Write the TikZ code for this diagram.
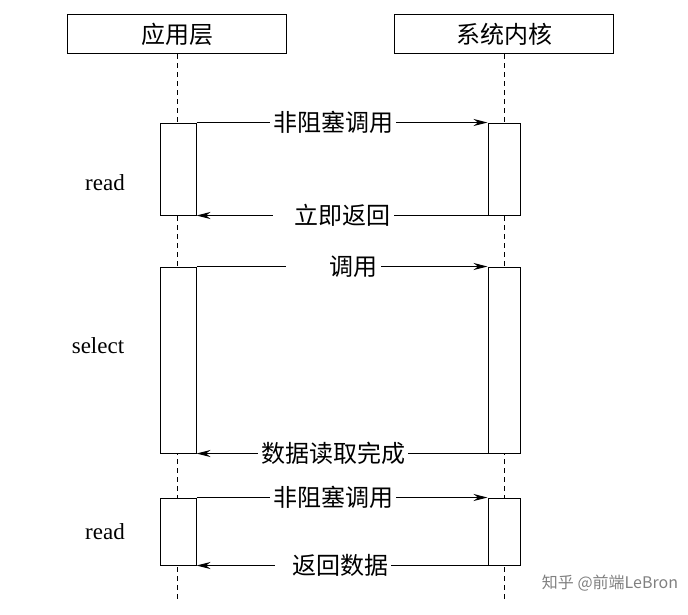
\documentclass[tikz,border=0pt]{standalone}
\usepackage{fontspec}
\setmainfont{Liberation Serif}
\newfontfamily\cjk{Noto Sans CJK SC}
\usetikzlibrary{arrows.meta}
\begin{document}
\begin{tikzpicture}[x=1pt,y=-1pt,
  hdr/.style={draw,line width=1pt,minimum width=219pt,minimum height=39pt,inner sep=0pt,font=\cjk\fontsize{24}{26}\selectfont},
  act/.style={draw,line width=1pt,fill=white,inner sep=0pt},
  msg/.style={line width=1pt,-{Stealth[length=14pt,width=7pt]}},
  lbl/.style={fill=white,inner sep=3pt,font=\cjk\fontsize{24}{26}\selectfont},
  side/.style={font=\fontsize{23}{25}\selectfont}]
\useasboundingbox (0,0) rectangle (688,614);
\node[hdr] (app) at (177,34) {应用层};
\node[hdr] (ker) at (504,34) {系统内核};
\coordinate (append) at (177,600);
\coordinate (kerend) at (504,600);
\draw[dashed,line width=0.8pt,dash pattern=on 5pt off 4pt] (app.south) -- (append);
\draw[dashed,line width=0.8pt,dash pattern=on 5pt off 4pt] (ker.south) -- (kerend);
% activations
\node[act,minimum width=36pt,minimum height=92pt] (a1) at (178,169) {};
\node[act,minimum width=32pt,minimum height=92pt] (k1) at (504,169) {};
\node[act,minimum width=36pt,minimum height=186pt] (a2) at (178,360) {};
\node[act,minimum width=32pt,minimum height=186pt] (k2) at (504,360) {};
\node[act,minimum width=36pt,minimum height=67pt] (a3) at (178,531.5) {};
\node[act,minimum width=32pt,minimum height=67pt] (k3) at (504,531.5) {};
% messages
\draw[msg] (a1.north east) -- node[lbl,pos=0.47]{非阻塞调用} (k1.north west);
\draw[msg] (k1.south west) -- node[lbl,pos=0.53]{\hspace{0.8em}立即返回\hspace{0.8em}} (a1.south east);
\draw[msg] (a2.north east) -- node[lbl,pos=0.47]{\hspace{1.7em}调用\hspace{1.7em}} (k2.north west);
\draw[msg] (k2.south west) -- node[lbl,pos=0.53]{数据读取完成} (a2.south east);
\draw[msg] (a3.north east) -- node[lbl,pos=0.47]{非阻塞调用} (k3.north west);
\draw[msg] (k3.south west) -- node[lbl,pos=0.53]{\hspace{0.6em}返回数据\hspace{0.6em}} (a3.south east);
\node[side] (r1) at (105,183) {read};
\node[side] (s1) at (98,346) {select};
\node[side] (r2) at (105,532) {read};
\node[text=gray,font=\cjk\fontsize{16}{18}\selectfont] (wm) at (610,583) {知乎 @前端LeBron};
\end{tikzpicture}
\end{document}
